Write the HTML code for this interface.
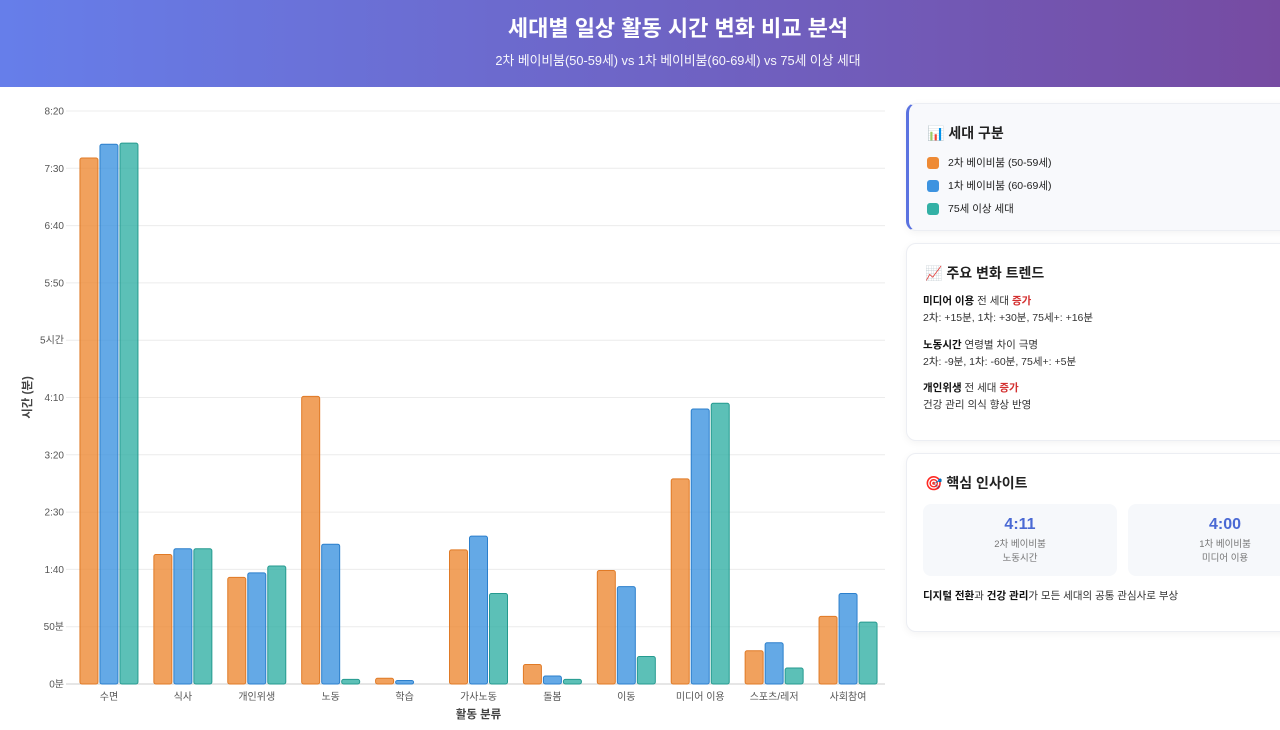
<!DOCTYPE html>
<html><head><meta charset="utf-8">
<style>
*{margin:0;padding:0;box-sizing:border-box}
body{width:1280px;height:730px;overflow:hidden;background:#fff;font-family:"Liberation Sans","Noto Sans CJK KR",sans-serif;color:#222}
.hdr{position:absolute;left:0;top:0;width:1280px;height:87px;background:linear-gradient(90deg,#667eea,#764ba2);color:#fff;text-align:center}
.hdr h1{position:absolute;top:11px;left:78px;width:1200px;font-size:22px;font-weight:bold}
.hdr p{position:absolute;top:50px;left:78px;width:1200px;font-size:12.8px;opacity:.95}
#chart{position:absolute;left:0;top:87px}
.card{position:absolute;left:906px;width:390px;border-radius:10px;background:#fff;border:1px solid #eceef3;box-shadow:0 2px 8px rgba(0,0,0,.05)}
.card h3{position:absolute;left:18px;font-size:14px;font-weight:bold}
.leg{position:absolute;left:18px;font-size:10.5px;display:flex;align-items:center}
.leg i{display:inline-block;width:12px;height:12px;border-radius:3px;margin-right:9px}
.tr{position:absolute;left:16px;font-size:10.5px;line-height:17px;color:#333}
.tr b{color:#111}.tr em{font-style:normal;color:#d32f2f;font-weight:bold}
.box{position:absolute;top:50px;width:194px;height:72px;background:#f6f8fb;border-radius:8px;text-align:center}
.box .v{margin-top:12px;font-size:16px;font-weight:bold;color:#4a69d4}
.box .l{font-size:9.5px;color:#777;line-height:14px;margin-top:4px}
</style></head><body>
<div class="hdr">
<h1>세대별 일상 활동 시간 변화 비교 분석</h1>
<p>2차 베이비붐(50-59세) vs 1차 베이비붐(60-69세) vs 75세 이상 세대</p>
</div>
<svg id="chart" width="895" height="643"></svg>

<div class="card" style="top:103px;height:128px;background:#f8f9fc;border-left:3px solid #5a72e0">
<h3 style="top:19px">📊 세대 구분</h3>
<div class="leg" style="top:51px"><i style="background:#ee8a35"></i>2차 베이비붐 (50-59세)</div>
<div class="leg" style="top:74px"><i style="background:#3d93e0"></i>1차 베이비붐 (60-69세)</div>
<div class="leg" style="top:97px"><i style="background:#33b0a5"></i>75세 이상 세대</div>
</div>

<div class="card" style="top:243px;height:198px">
<h3 style="top:19px">📈 주요 변화 트렌드</h3>
<div class="tr" style="top:49px"><b>미디어 이용</b> 전 세대 <em>증가</em><br>2차: +15분, 1차: +30분, 75세+: +16분</div>
<div class="tr" style="top:93px"><b>노동시간</b> 연령별 차이 극명<br>2차: -9분, 1차: -60분, 75세+: +5분</div>
<div class="tr" style="top:136px"><b>개인위생</b> 전 세대 <em>증가</em><br>건강 관리 의식 향상 반영</div>
</div>

<div class="card" style="top:453px;height:179px">
<h3 style="top:19px">🎯 핵심 인사이트</h3>
<div class="box" style="left:16px"><div class="v">4:11</div><div class="l">2차 베이비붐<br>노동시간</div></div>
<div class="box" style="left:221px"><div class="v">4:00</div><div class="l">1차 베이비붐<br>미디어 이용</div></div>
<div class="tr" style="top:134px"><b>디지털 전환</b>과 <b>건강 관리</b>가 모든 세대의 공통 관심사로 부상</div>
</div>

<script>
const categories=["수면","식사","개인위생","노동","학습","가사노동","돌봄","이동","미디어 이용","스포츠/레저","사회참여"];
const gen2=[459,113,93,251,5,117,17,99,179,29,59];
const gen1=[471,118,97,122,3,129,7,85,240,36,79];
const gen75=[472,118,103,4,0,79,4,24,245,14,54];
const tickValues=[0,50,100,150,200,250,300,350,400,450,500];
const tickLabels=["0분","50분","1:40","2:30","3:20","4:10","5시간","5:50","6:40","7:30","8:20"];
const NS="http://www.w3.org/2000/svg";
const svg=document.getElementById('chart');
const X0=72,X1=885,Y0=597,Y1=24,MAX=500;
const y=v=>Y0-(v/MAX)*(Y0-Y1);
const bw=(X1-X0)/categories.length;
const xc=i=>X0+bw*(i+0.5);
function mk(t,a){const e=document.createElementNS(NS,t);for(const k in a)e.setAttribute(k,a[k]);svg.appendChild(e);return e;}
tickValues.forEach((v,i)=>{
  const l=mk('line',{x1:X0-6,x2:X1,y1:y(v),y2:y(v),stroke:i==0?'#ccc':'#ececec','stroke-width':1});
  
  
  const t=mk('text',{x:X0-8,y:y(v)+3.5,'text-anchor':'end','font-size':10,fill:'#555'});
  t.textContent=tickLabels[i];
  
  
});
const series=[[gen2,'#ee8a35','#e07a26','gen2'],[gen1,'#3d93e0','#2b7fcc','gen1'],[gen75,'#33b0a5','#259a8f','75plus']];
categories.forEach((c,i)=>{
  series.forEach((s,j)=>{
    const v=s[0][i];if(v<=0)return;
    const x=xc(i)-29+j*20;
    const r=mk('rect',{x:x,y:y(v),width:18,height:Y0-y(v),rx:2,fill:s[1],'fill-opacity':0.8,stroke:s[2],'stroke-width':1});
    
    
  });
  const t=mk('text',{x:xc(i),y:Y0+16,'text-anchor':'middle','font-size':10,fill:'#555'});
  t.textContent=c;
  
  
});
const xt=mk('text',{x:(X0+X1)/2,y:Y0+34,'text-anchor':'middle','font-size':11.5,'font-weight':'bold',fill:'#444'});
xt.textContent='활동 분류';


const yt=mk('text',{x:0,y:0,'text-anchor':'middle','font-size':11.5,'font-weight':'bold',fill:'#444',transform:'translate(31,'+((Y0+Y1)/2)+') rotate(-90)'});
yt.textContent='시간 (분)';


</script>
</body></html>
